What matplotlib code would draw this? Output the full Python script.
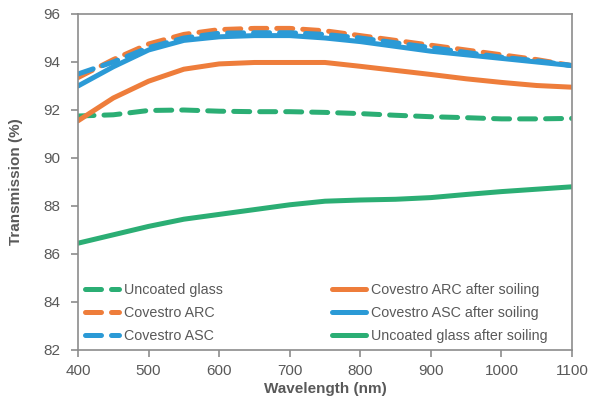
import matplotlib.pyplot as plt

# wavelength grid (nm) and transmission values (%)
wavelength = [400, 450, 500, 550, 600, 650, 700, 750, 800, 850, 900, 950, 1000, 1050, 1100]

uncoated = [91.75, 91.8, 91.98, 92.0, 91.95, 91.93, 91.93, 91.9, 91.85, 91.78, 91.72, 91.68, 91.63, 91.63, 91.65]
arc = [93.35, 94.1, 94.75, 95.15, 95.35, 95.4, 95.4, 95.3, 95.1, 94.9, 94.7, 94.5, 94.3, 94.1, 93.85]
asc = [93.5, 94.0, 94.6, 95.0, 95.2, 95.22, 95.22, 95.15, 95.0, 94.8, 94.6, 94.4, 94.2, 94.05, 93.85]
arc_soiled = [91.55, 92.5, 93.2, 93.7, 93.92, 93.98, 93.98, 93.98, 93.82, 93.65, 93.48, 93.3, 93.15, 93.02, 92.95]
asc_soiled = [93.0, 93.8, 94.5, 94.9, 95.05, 95.1, 95.1, 95.0, 94.85, 94.65, 94.45, 94.3, 94.15, 94.0, 93.85]
uncoated_soiled = [86.45, 86.8, 87.15, 87.45, 87.65, 87.85, 88.05, 88.2, 88.25, 88.28, 88.35, 88.48, 88.6, 88.7, 88.8]

green = "#2bae74"
orange = "#ee7d3b"
blue = "#2b9ad6"
grey = "#595959"

plt.rcParams['font.family'] = ['Liberation Sans', 'DejaVu Sans']

fig = plt.figure(figsize=(5.93, 4.01), dpi=100)
ax = fig.add_axes([78 / 593, 1 - 350 / 401, (572 - 78) / 593, (350 - 14) / 401])

lw = 3.6
dash = (3.2, 2.0)
l1, = ax.plot(wavelength, uncoated, color=green, lw=lw, dashes=dash, dash_capstyle='round', label="Uncoated glass")
l2, = ax.plot(wavelength, arc, color=orange, lw=lw, dashes=dash, dash_capstyle='round', label="Covestro ARC")
l3, = ax.plot(wavelength, asc, color=blue, lw=lw, dashes=dash, dash_capstyle='round', label="Covestro ASC")
l4, = ax.plot(wavelength, arc_soiled, color=orange, lw=lw, solid_capstyle='round', label="Covestro ARC after soiling")
l5, = ax.plot(wavelength, asc_soiled, color=blue, lw=lw, solid_capstyle='round', label="Covestro ASC after soiling")
l6, = ax.plot(wavelength, uncoated_soiled, color=green, lw=lw, solid_capstyle='round', label="Uncoated glass after soiling")

ax.set_xlim(400, 1100)
ax.set_ylim(82, 96)
ax.set_xticks(range(400, 1101, 100))
ax.set_yticks(range(82, 97, 2))

for s in ax.spines.values():
    s.set_color("#8c8c8c")
    s.set_linewidth(1.2)
ax.tick_params(colors="#8c8c8c", labelcolor=grey, labelsize=11, length=5, width=1.2)
ax.tick_params(axis='y', pad=8)
ax.tick_params(axis='x', pad=5)

ax.set_xlabel("Wavelength (nm)", fontsize=11, fontweight='bold', color=grey, labelpad=3)
ax.set_ylabel("Transmission (%)", fontsize=11, fontweight='bold', color=grey, labelpad=14)

leg = ax.legend(handles=[l1, l2, l3, l4, l5, l6], ncol=2, frameon=False, loc='lower left',
                bbox_to_anchor=(0.0, 0.0), fontsize=10.3, labelcolor=grey,
                handlelength=2.4, handletextpad=0.35, columnspacing=7.6, labelspacing=0.62,
                borderaxespad=0.1)

fig.savefig("out.png", dpi=100)
